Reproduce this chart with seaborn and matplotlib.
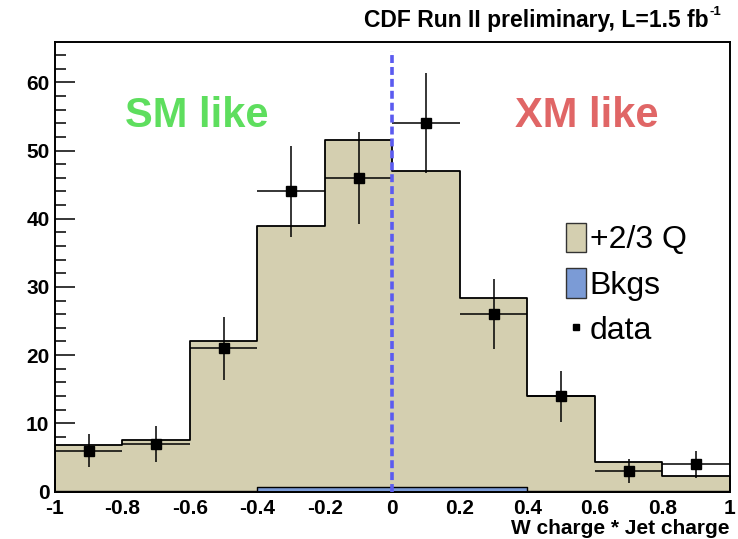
import numpy as np
import matplotlib
matplotlib.use("Agg")
import matplotlib.pyplot as plt
import seaborn as sns
from matplotlib.patches import Patch
from matplotlib.lines import Line2D
from matplotlib.ticker import MultipleLocator

# bin edges and contents
bin_edges = [-1.0, -0.8, -0.6, -0.4, -0.2, 0.0, 0.2, 0.4, 0.6, 0.8, 1.0]
bin_centers = [-0.9, -0.7, -0.5, -0.3, -0.1, 0.1, 0.3, 0.5, 0.7, 0.9]
bkgs = [0.1, 0.1, 0.1, 0.6, 0.6, 0.6, 0.6, 0.1, 0.05, 0.05]
q23 = [6.7, 7.5, 21.9, 38.4, 50.9, 46.4, 27.8, 13.9, 4.25, 2.25]
data = [6, 7, 21, 44, 46, 54, 26, 14, 3, 4]

tan = "#d4cfb0"
blue = "#7b9bd6"

sns.set_theme(style="ticks")
plt.rcParams["font.family"] = ["Liberation Sans", "DejaVu Sans"]
plt.rcParams["text.color"] = "black"
plt.rcParams["axes.labelcolor"] = "black"

fig = plt.figure(figsize=(7.38, 5.39), dpi=100)
ax = fig.add_axes([0.0745, 0.088, 0.9145, 0.834])

total = np.array(q23) + np.array(bkgs)

# stacked MC: total first, background drawn over it
sns.histplot(x=bin_centers, weights=total, bins=bin_edges, element="step",
             fill=True, color=tan, alpha=1, edgecolor="black", linewidth=1.3, ax=ax)
sns.histplot(x=bin_centers, weights=bkgs, bins=bin_edges, element="step",
             fill=True, color=blue, alpha=1, edgecolor="black", linewidth=1.0, ax=ax)

# data with sqrt(N) errors
ax.errorbar(bin_centers, data, xerr=0.1, yerr=np.sqrt(data), fmt="s", color="black",
            markersize=6.5, elinewidth=1.1, capsize=0, zorder=5)

ax.axvline(0, ymin=0, ymax=0.98, color="#5b5bf0", lw=2.6, linestyle=(0, (2.2, 1.1)), zorder=6)

ax.text(-0.58, 55, "SM like", color="#5ede5e", fontsize=30, fontweight="bold",
        ha="center", va="center")
ax.text(0.575, 55, "XM like", color="#e06666", fontsize=30, fontweight="bold",
        ha="center", va="center")

ax.set_xlim(-1, 1)
ax.set_ylim(0, 65.9)
ax.set_xlabel("W charge * Jet charge", fontsize=15, fontweight="bold", loc="right", labelpad=1)
ax.set_ylabel("")

ax.xaxis.set_major_locator(MultipleLocator(0.2))
ax.xaxis.set_minor_locator(MultipleLocator(0.05))
ax.yaxis.set_major_locator(MultipleLocator(10))
ax.yaxis.set_minor_locator(MultipleLocator(2))
ax.set_xticks(np.arange(-1, 1.01, 0.2))
ax.set_xticklabels(["-1", "-0.8", "-0.6", "-0.4", "-0.2", "0", "0.2", "0.4", "0.6", "0.8", "1"])
ax.tick_params(axis="both", which="both", direction="in", colors="black", labelsize=15, width=1.1)
ax.tick_params(axis="x", which="major", length=9.5, pad=5)
ax.tick_params(axis="x", which="minor", length=5)
ax.tick_params(axis="y", which="major", length=14.5, pad=4)
ax.tick_params(axis="y", which="minor", length=8)
for lab in ax.get_xticklabels() + ax.get_yticklabels():
    lab.set_fontweight("bold")
for sp in ax.spines.values():
    sp.set_visible(True)
    sp.set_color("black")
    sp.set_linewidth(1.4)

fig.text(0.96, 0.962, "CDF Run II preliminary, L=1.5 fb", ha="right", va="center",
         fontsize=16.5, fontweight="bold", color="black")
fig.text(0.961, 0.977, "-1", ha="left", va="center", fontsize=9.5, fontweight="bold", color="black")

handles = [Patch(facecolor=tan, edgecolor="#333333", label="+2/3 Q"),
           Patch(facecolor=blue, edgecolor="#333333", label="Bkgs"),
           Line2D([], [], marker="s", color="black", linestyle="none", markersize=5, label="data")]
leg = ax.legend(handles=handles, loc="upper left", bbox_to_anchor=(0.757, 0.598), frameon=False,
                fontsize=23, handlelength=0.62, handleheight=1.05, handletextpad=0.12,
                labelspacing=0.4, borderpad=0, borderaxespad=0)
for t in leg.get_texts():
    t.set_color("black")

fig.savefig("out.png", dpi=100)
